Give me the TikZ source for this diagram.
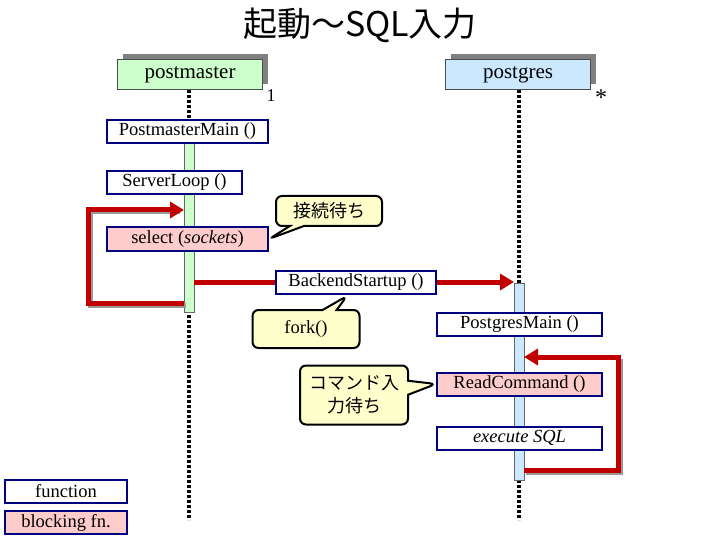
\documentclass[tikz,border=0pt]{standalone}
\usepackage{fontspec}
\setmainfont{Liberation Serif}
\newfontfamily\cjk{Noto Sans CJK JP}
\usetikzlibrary{arrows.meta,shapes.callouts}
\definecolor{navy}{RGB}{0,0,128}
\definecolor{pmgreen}{RGB}{204,255,204}
\definecolor{pgblue}{RGB}{204,232,255}
\definecolor{blk}{RGB}{255,204,204}
\definecolor{note}{RGB}{255,255,204}
\definecolor{loopred}{RGB}{192,0,0}
\tikzset{
 x=1pt,y=-1pt,
 fn/.style={draw=navy,line width=2pt,fill=white,minimum height=23pt,inner sep=0pt,font=\fontsize{18.5}{18.5}\selectfont},
 obj/.style={draw=black!70,line width=1pt,minimum height=30pt,minimum width=145pt,inner sep=0pt,font=\fontsize{21}{21}\selectfont},
 life/.style={line width=3.5pt,dash pattern=on 3pt off 2pt},
 bar/.style={draw=black!60,line width=0.8pt},
 red/.style={draw=loopred,line width=5pt},
 call/.style={rectangle callout,draw=black,line width=2pt,rounded corners=6pt,fill=note,font=\cjk\fontsize{18}{23}\selectfont,align=center,callout pointer width=14pt}
}
\begin{document}
\begin{tikzpicture}
\useasboundingbox (0,0) rectangle (720,540);
\node (title) at (360,25) {\cjk\fontsize{34}{34}\selectfont 起動～SQL入力};
% objects
\fill[gray] (123,54) rectangle (268,84);
\fill[gray] (451,54) rectangle (596,84);
\node[obj,fill=pmgreen] (pm) at (190,75) {postmaster};
\node[obj,fill=pgblue] (pg) at (518,75) {postgres};
\node (one) at (271,96) {\fontsize{18}{18}\selectfont 1};
\node (star) at (601,98) {\fontsize{24}{24}\selectfont *};
% lifelines
\coordinate (pmend) at (189,520);
\coordinate (pgend) at (519,520);
\draw[life] (189,90) -- (pmend);
\draw[life] (519,90) -- (pgend);
\draw[bar,fill=pmgreen] (184,143) rectangle (194,312);
\draw[bar,fill=pgblue] (514,283) rectangle (524,480);
% loop 1
\coordinate (l1a) at (184,303);
\coordinate (l1b) at (184,210);
\draw[black!40,line width=5pt] (l1a)++(2,2) -| (90,212) -- (180,212);
\draw[red,-{Triangle[length=14pt,width=16pt]}] (l1a) -| (88,210) -- (l1b);
% backend arrow
\coordinate (bsa) at (194,282);
\coordinate (bsb) at (514,282);
\draw[red,-{Triangle[length=14pt,width=16pt]}] (bsa) -- (bsb);
% loop 2
\coordinate (l2a) at (524,470);
\coordinate (l2b) at (524,357);
\draw[black!40,line width=5pt] (526,472) -| (620,359);
\draw[red,-{Triangle[length=14pt,width=16pt]}] (l2a) -| (618,357) -- (l2b);
% functions
\node[fn,minimum width=161pt] (pmm) at (187.5,131.5) {PostmasterMain ()};
\node[fn,minimum width=135pt] (sl) at (174.5,182.5) {ServerLoop ()};
\node[fn,minimum width=161pt,fill=blk] (sel) at (187.5,239) {select (\textit{sockets})};
\node[fn,minimum width=160pt] (bs) at (356,282.5) {BackendStartup ()};
\node[fn,minimum width=165pt] (pgm) at (519.5,324.5) {PostgresMain ()};
\node[fn,minimum width=165pt,fill=blk] (rc) at (519.5,384) {ReadCommand ()};
\node[fn,minimum width=165pt] (ex) at (519.5,438) {\textit{execute SQL}};
\node[fn,minimum width=122pt] (lf) at (66,491.5) {function};
\node[fn,minimum width=122pt,fill=blk] (lb) at (66,522.5) {blocking fn.};
% callouts
\node[call,minimum width=106pt,minimum height=30pt,callout absolute pointer={(sel.east)}] (c1) at (329,211) {接続待ち};
\node[call,minimum width=107pt,minimum height=38pt,callout absolute pointer={(347,296)},font=\fontsize{18.5}{18.5}\selectfont] (c2) at (306,329) {fork()};
\node[call,minimum width=108pt,minimum height=59pt,callout absolute pointer={(rc.west)}] (c3) at (354,395) {コマンド入\\力待ち};
\end{tikzpicture}
\end{document}
